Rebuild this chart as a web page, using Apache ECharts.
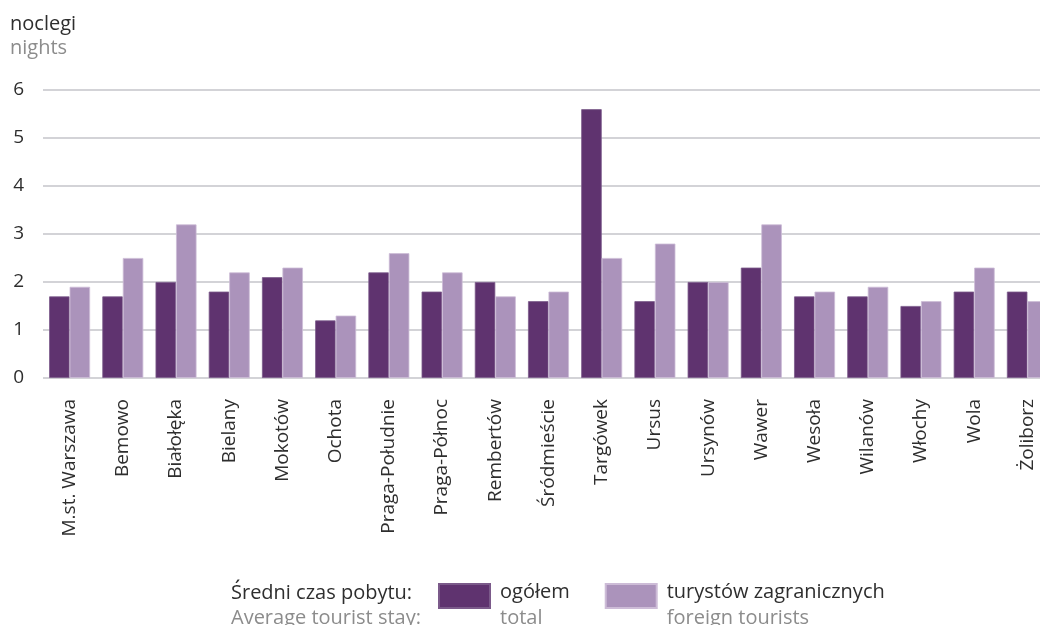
<!DOCTYPE html>
<html>
<head>
<meta charset="utf-8">
<script src="https://cdn.jsdelivr.net/npm/echarts@6/dist/echarts.min.js"></script>
<style>
  html, body { margin: 0; padding: 0; background: #fff; }
  #chart { width: 1040px; height: 625px; }
</style>
</head>
<body>
<div id="chart"></div>
<script>
// Średni czas pobytu turystów w dzielnicach Warszawy (noclegi)
const districts = ['M.st. Warszawa', 'Bemowo', 'Białołęka', 'Bielany', 'Mokotów', 'Ochota',
  'Praga-Południe', 'Praga-Północ', 'Rembertów', 'Śródmieście', 'Targówek', 'Ursus',
  'Ursynów', 'Wawer', 'Wesoła', 'Wilanów', 'Włochy', 'Wola', 'Żoliborz'];
const totalStay = [1.7, 1.7, 2.0, 1.8, 2.1, 1.2, 2.2, 1.8, 2.0, 1.6, 5.6, 1.6, 2.0, 2.3, 1.7, 1.7, 1.5, 1.8, 1.8];
const foreignStay = [1.9, 2.5, 3.2, 2.2, 2.3, 1.3, 2.6, 2.2, 1.7, 1.8, 2.5, 2.8, 2.0, 3.2, 1.8, 1.9, 1.6, 2.3, 1.6];
const yTicks = [0, 1, 2, 3, 4, 5, 6];

const FONT = '"Open Sans", "Noto Sans", sans-serif';
const DARK = '#5f336f';
const LIGHT = '#ab93bb';
const TEXT = '#2e2e2e';
const MUTED = '#8c8c8c';

const chart = echarts.init(document.getElementById('chart'), null, { renderer: 'canvas' });

chart.setOption({
  animation: false,
  textStyle: { fontFamily: FONT },
  grid: { left: 43, top: 90, right: -14, height: 288, containLabel: false, outerBoundsMode: 'none' },
  xAxis: {
    type: 'category',
    data: districts,
    axisLine: { show: false },
    axisTick: { show: false },
    axisLabel: {
      rotate: 90,
      interval: 0,
      margin: 21,
      fontSize: 19,
      color: TEXT,
      fontFamily: FONT
    }
  },
  yAxis: {
    type: 'value',
    min: yTicks[0],
    max: yTicks[yTicks.length - 1],
    interval: 1,
    axisLine: { show: false },
    axisTick: { show: false },
    axisLabel: {
      margin: 19,
      fontSize: 19,
      color: TEXT,
      fontFamily: FONT,
      formatter: v => yTicks.includes(v) ? String(v) : ''
    },
    splitLine: { lineStyle: { color: '#c4c4ca', width: 1.5 } }
  },
  legend: {
    left: 438,
    top: 582,
    padding: 0,
    itemWidth: 51,
    itemHeight: 24,
    itemGap: 35,
    icon: 'rect',
    selectedMode: false,
    data: ['ogółem', 'turystów zagranicznych'],
    formatter: name => name === 'ogółem'
      ? '{a|ogółem}\n{b|total}'
      : '{a|turystów zagranicznych}\n{b|foreign tourists}',
    textStyle: {
      fontFamily: FONT,
      padding: [18, 0, 0, 5],
      rich: {
        a: { fontSize: 20, color: TEXT, lineHeight: 26, fontFamily: FONT },
        b: { fontSize: 20, color: MUTED, lineHeight: 26, fontFamily: FONT }
      }
    }
  },
  graphic: [
    { type: 'text', left: 10, top: 14, style: { text: 'noclegi', fontSize: 20, fill: TEXT, fontFamily: FONT } },
    { type: 'text', left: 10, top: 38, style: { text: 'nights', fontSize: 20, fill: MUTED, fontFamily: FONT } },
    { type: 'text', left: 231, top: 578 + 5, style: { text: 'Średni czas pobytu:', fontSize: 20, fill: TEXT, fontFamily: FONT } },
    { type: 'text', left: 231, top: 608, style: { text: 'Average tourist stay:', fontSize: 20, fill: MUTED, fontFamily: FONT } }
  ],
  series: [
    {
      name: 'ogółem',
      type: 'bar',
      data: totalStay,
      barGap: '0%',
      barCategoryGap: '23%',
      itemStyle: { color: DARK, borderColor: '#7b5a8a', borderWidth: 0.8 }
    },
    {
      name: 'turystów zagranicznych',
      type: 'bar',
      data: foreignStay,
      itemStyle: { color: LIGHT, borderColor: '#cdbcd7', borderWidth: 0.8 }
    }
  ]
});
</script>
</body>
</html>
